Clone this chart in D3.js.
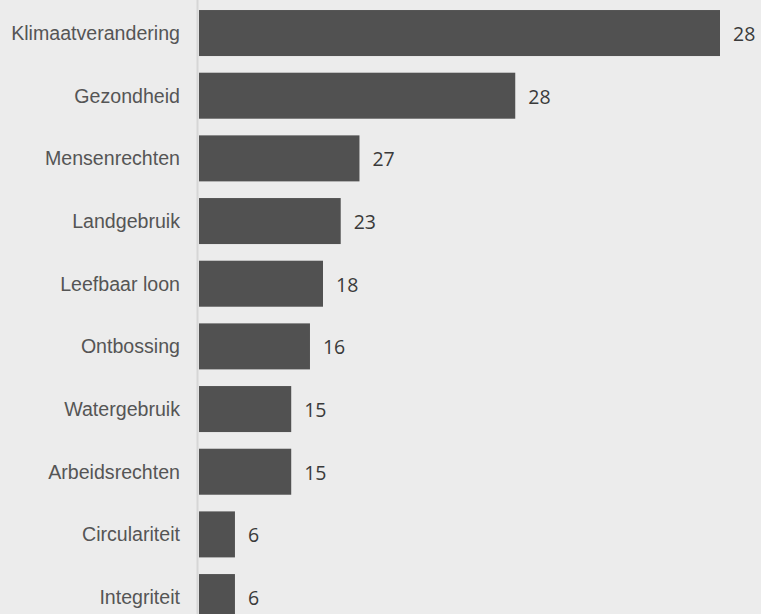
<!DOCTYPE html>
<html>
<head>
<meta charset="utf-8">
<script src="https://cdn.jsdelivr.net/npm/d3@7"></script>
<style>
  html, body { margin: 0; padding: 0; background: #ececec; }
  #chart { width: 761px; height: 614px; overflow: hidden; }
</style>
</head>
<body>
<div id="chart"></div>
<script>
// categories, top to bottom
var categories = ["Klimaatverandering", "Gezondheid", "Mensenrechten", "Landgebruik",
  "Leefbaar loon", "Ontbossing", "Watergebruik", "Arbeidsrechten", "Circulariteit", "Integriteit"];

// numbers printed next to the bars
var valueLabels = ["28", "28", "27", "23", "18", "16", "15", "15", "6", "6"];

// bar lengths as drawn in the picture (they don't follow the printed numbers)
var barLengths = [100, 60.7, 30.8, 27.2, 23.8, 21.3, 17.7, 17.7, 6.9, 6.9];

var data = categories.map(function (c, i) {
  return { cat: c, len: barLengths[i], label: valueLabels[i] };
});

var width = 761, height = 614;
var x0 = 199;

var svg = d3.select("#chart")
  .append("svg")
  .attr("width", width)
  .attr("height", height);

// soft background
svg.append("rect")
  .attr("width", width)
  .attr("height", height)
  .attr("fill", "#ececec");

var x = d3.scaleLinear()
  .domain([0, d3.max(barLengths)])
  .range([x0, 720]);

var y = d3.scaleBand()
  .domain(categories)
  .range([1.7, 1.7 + 62.67 * 10])
  .paddingInner(0.266)
  .paddingOuter(0.133);

// axis line
svg.append("line")
  .attr("x1", 197.5).attr("x2", 197.5)
  .attr("y1", 0).attr("y2", height)
  .attr("stroke", "#d6d6d6")
  .attr("stroke-width", 2);

// bars
svg.selectAll(".bar")
  .data(data)
  .enter()
  .append("rect")
  .attr("class", "bar")
  .attr("x", x(0))
  .attr("y", function (d) { return y(d.cat); })
  .attr("width", function (d) { return x(d.len) - x(0); })
  .attr("height", y.bandwidth())
  .attr("fill", "#515151");

// category labels
svg.selectAll(".cat")
  .data(data)
  .enter()
  .append("text")
  .attr("class", "cat")
  .attr("x", 180)
  .attr("y", function (d) { return y(d.cat) + y.bandwidth() / 2; })
  .attr("dy", "0.35em")
  .attr("text-anchor", "end")
  .attr("font-family", "Liberation Sans")
  .attr("font-size", "19.6px")
  .attr("fill", "#555555")
  .text(function (d) { return d.cat; });

// value labels
svg.selectAll(".val")
  .data(data)
  .enter()
  .append("text")
  .attr("class", "val")
  .attr("x", function (d) { return x(d.len) + 13; })
  .attr("y", function (d) { return y(d.cat) + y.bandwidth() / 2; })
  .attr("dy", "0.4em")
  .attr("font-family", "Open Sans")
  .attr("font-size", "19.5px")
  .attr("fill", "#3a3a3a")
  .text(function (d) { return d.label; });
</script>
</body>
</html>
